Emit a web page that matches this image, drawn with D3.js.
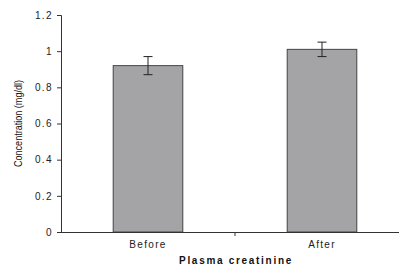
<!DOCTYPE html>
<html>
<head>
<meta charset="utf-8">
<script src="https://cdn.jsdelivr.net/npm/d3@7"></script>
<style>
  body { margin: 0; background: #fff; }
  svg { display: block; font-family: "Liberation Sans", Arial, sans-serif; }
</style>
</head>
<body>
<svg id="chart" width="399" height="265"></svg>
<script>
const categories = ["Before", "After"];
const values = [0.92, 1.01];
const errors = [0.05, 0.04];
const yTicks = [0, 0.2, 0.4, 0.6, 0.8, 1, 1.2];

const svg = d3.select("#chart");
const plotLeft = 61, plotTop = 15, plotBottom = 232, step = 174;

const x = d3.scaleBand()
  .domain(categories)
  .range([plotLeft, plotLeft + step * categories.length])
  .paddingInner(0.6)
  .paddingOuter(0.3);

const y = d3.scaleLinear().domain([0, 1.2]).range([plotBottom, plotTop]);

// y axis
const yAxis = svg.append("g")
  .attr("transform", `translate(${plotLeft},0)`)
  .call(d3.axisLeft(y).tickValues(yTicks).tickSize(4).tickFormat(d => String(d)));
yAxis.select(".domain").attr("stroke", "#333");
yAxis.selectAll(".tick line").attr("stroke", "#333");
yAxis.selectAll(".tick text")
  .attr("font-size", 10)
  .attr("letter-spacing", 1.4)
  .attr("fill", "#222")
  .attr("x", -8)
  .attr("font-family", "Liberation Sans, Arial, sans-serif");

// bars
svg.selectAll(".bar")
  .data(categories)
  .join("rect")
  .attr("class", "bar")
  .attr("x", d => x(d))
  .attr("width", x.bandwidth())
  .attr("y", (d, i) => y(values[i]))
  .attr("height", (d, i) => y(0) - y(values[i]))
  .attr("fill", "#a4a4a7")
  .attr("stroke", "#444")
  .attr("stroke-width", 1);

// error bars
const cx = d => x(d) + x.bandwidth() / 2;
const eb = svg.append("g").attr("stroke", "#222").attr("stroke-width", 1);
categories.forEach((c, i) => {
  eb.append("line").attr("x1", cx(c)).attr("x2", cx(c))
    .attr("y1", y(values[i] + errors[i])).attr("y2", y(values[i] - errors[i]));
  [values[i] + errors[i], values[i] - errors[i]].forEach(v => {
    eb.append("line").attr("x1", cx(c) - 4.5).attr("x2", cx(c) + 4.5)
      .attr("y1", y(v)).attr("y2", y(v));
  });
});

// x axis
svg.append("line")
  .attr("x1", plotLeft).attr("x2", x.range()[1])
  .attr("y1", plotBottom + 0.5).attr("y2", plotBottom + 0.5)
  .attr("stroke", "#333");
categories.slice(1).forEach(c => {
  const tx = x(c) - (x.step() * x.paddingInner()) / 2;
  svg.append("line")
    .attr("x1", tx).attr("x2", tx)
    .attr("y1", plotBottom).attr("y2", plotBottom + 4)
    .attr("stroke", "#333");
});

svg.selectAll(".cat")
  .data(categories)
  .join("text")
  .attr("class", "cat")
  .attr("x", d => cx(d))
  .attr("y", 248)
  .attr("text-anchor", "middle")
  .attr("font-size", 10)
  .attr("letter-spacing", 1.3)
  .attr("fill", "#222")
  .text(d => d);

svg.append("text")
  .attr("x", 236)
  .attr("y", 264)
  .attr("text-anchor", "middle")
  .attr("font-size", 10)
  .attr("font-weight", "bold")
  .attr("letter-spacing", 1.7)
  .attr("fill", "#111")
  .text("Plasma creatinine");

svg.append("text")
  .attr("transform", `translate(22,${(plotTop + plotBottom) / 2}) rotate(-90)`)
  .attr("text-anchor", "middle")
  .attr("font-size", 11)
  .attr("textLength", 87)
  .attr("lengthAdjust", "spacingAndGlyphs")
  .attr("fill", "#111")
  .text("Concentration (mg/dl)");
</script>
</body>
</html>
